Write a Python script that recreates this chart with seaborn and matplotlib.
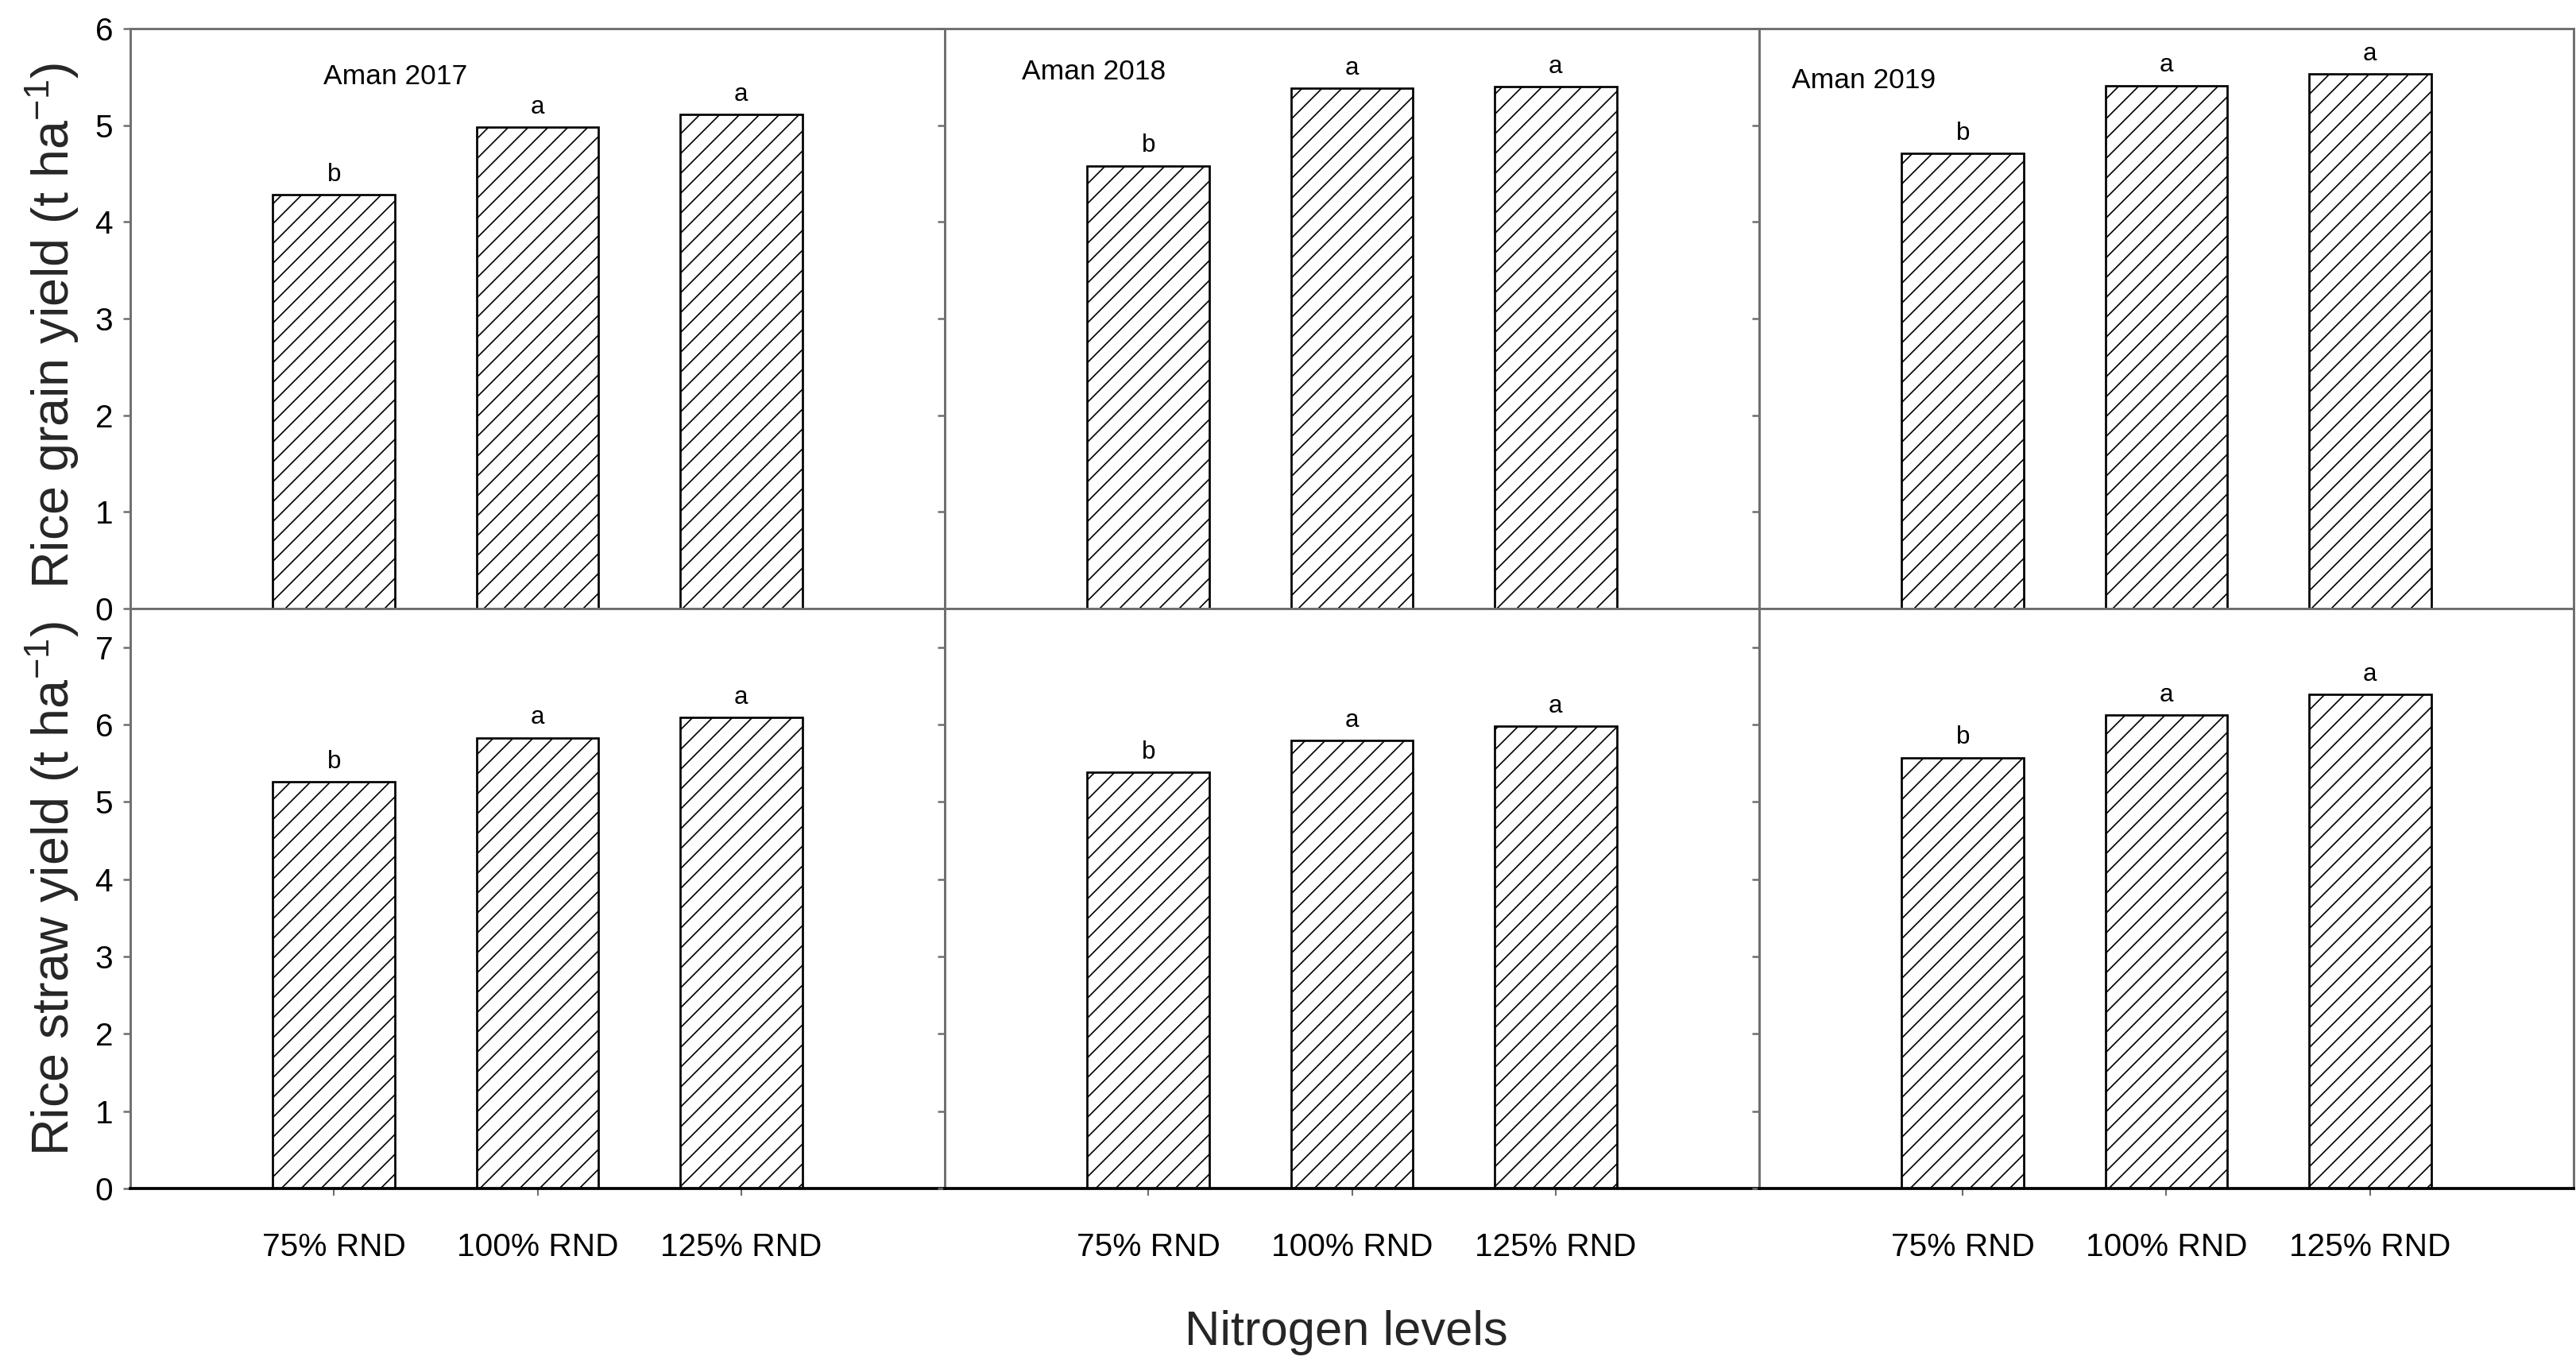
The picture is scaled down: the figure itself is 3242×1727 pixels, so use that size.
import numpy as np
import pandas as pd
import matplotlib
matplotlib.use("Agg")
import matplotlib.pyplot as plt
import seaborn as sns

# ---- data ----
nitrogen = ["75% RND", "100% RND", "125% RND"]
seasons = ["Aman 2017", "Aman 2018", "Aman 2019"]
grain_2017 = [4.28, 4.98, 5.11]
grain_2018 = [4.58, 5.38, 5.40]
grain_2019 = [4.71, 5.41, 5.53]
straw_2017 = [5.26, 5.83, 6.09]
straw_2018 = [5.38, 5.79, 5.98]
straw_2019 = [5.57, 6.12, 6.39]
grain_letters = ["b", "a", "a"]
straw_letters = ["b", "a", "a"]
grain_ticks = [0, 1, 2, 3, 4, 5, 6]
straw_ticks = [0, 1, 2, 3, 4, 5, 6, 7]

grain = [grain_2017, grain_2018, grain_2019]
straw = [straw_2017, straw_2018, straw_2019]

sns.set_theme(style="ticks")
plt.rcParams["font.family"] = ["Liberation Sans", "DejaVu Sans"]
plt.rcParams["mathtext.fontset"] = "custom"
plt.rcParams["mathtext.rm"] = "Liberation Sans"
plt.rcParams["mathtext.it"] = "Liberation Sans:italic"
plt.rcParams["hatch.linewidth"] = 0.8
plt.rcParams["hatch.color"] = "black"

DPI = 150
fig = plt.figure(figsize=(3242 / DPI, 1727 / DPI), dpi=DPI)
fig.patch.set_facecolor("white")

W, H = 3242.0, 1727.0
left0 = 164 / W
pw = 1025 / W
top_bottom = 1 - 766 / H
top_h = (766 - 36) / H
bot_bottom = 1 - 1496 / H
bot_h = (1496 - 766) / H

spine_col = "#6e6e6e"
label_pos = [(-0.05, 5.5), (-0.62, 5.55), (-0.84, 5.46)]

for i in range(3):
    for row in range(2):
        if row == 0:
            ax = fig.add_axes([left0 + i * pw, top_bottom, pw, top_h])
            vals, letters, ticks, ymax = grain[i], grain_letters, grain_ticks, 6
        else:
            ax = fig.add_axes([left0 + i * pw, bot_bottom, pw, bot_h])
            vals, letters, ticks, ymax = straw[i], straw_letters, straw_ticks, 7.5
        df = pd.DataFrame({"Nitrogen": nitrogen, "Yield": vals})
        sns.barplot(data=df, x="Nitrogen", y="Yield", ax=ax, color="white",
                    saturation=1, edgecolor="black", linewidth=1.3, width=0.6,
                    hatch="//", errorbar=None)
        for p in ax.patches:
            p.set_facecolor("white")
            p.set_edgecolor("black")
        ax.set_xlim(-1, 3)
        ax.set_ylim(0, ymax)
        ax.set_yticks(ticks)
        ax.set_xlabel("")
        ax.set_ylabel("")
        for s in ax.spines.values():
            s.set_visible(True)
            s.set_color(spine_col)
            s.set_linewidth(1.4)
        ax.tick_params(axis="y", direction="out", length=4.5, width=1.2,
                       color=spine_col, labelsize=19.5, pad=6, labelcolor="black")
        if i > 0:
            ax.tick_params(axis="y", labelleft=False)
        if row == 0:
            ax.tick_params(axis="x", direction="in", length=3, width=1,
                           color=spine_col, labelbottom=False)
            ax.text(label_pos[i][0], label_pos[i][1], seasons[i], fontsize=17,
                    ha="left", va="center", color="black")
        else:
            ax.spines["bottom"].set_color("black")
            ax.spines["bottom"].set_linewidth(1.8)
            ax.tick_params(axis="x", direction="out", length=4.5, width=1,
                           color=spine_col, labelsize=19.5, pad=22,
                           labelcolor="black")
        for x, (v, t) in enumerate(zip(vals, letters)):
            ax.annotate(t, xy=(x, v), xytext=(0, 5), textcoords="offset points",
                        ha="center", va="bottom", fontsize=15, color="black")

fig.text(66 / W, 1 - 410 / H, "Rice grain yield (t ha$^{-1}$)", rotation=90,
         ha="center", va="center", fontsize=31)
fig.text(66 / W, 1 - 1118 / H, "Rice straw yield (t ha$^{-1}$)", rotation=90,
         ha="center", va="center", fontsize=31)
fig.text(1694 / W, 1 - 1678 / H, "Nitrogen levels", ha="center", va="center",
         fontsize=29.5)

fig.savefig("out.png", dpi=DPI, facecolor="white")
